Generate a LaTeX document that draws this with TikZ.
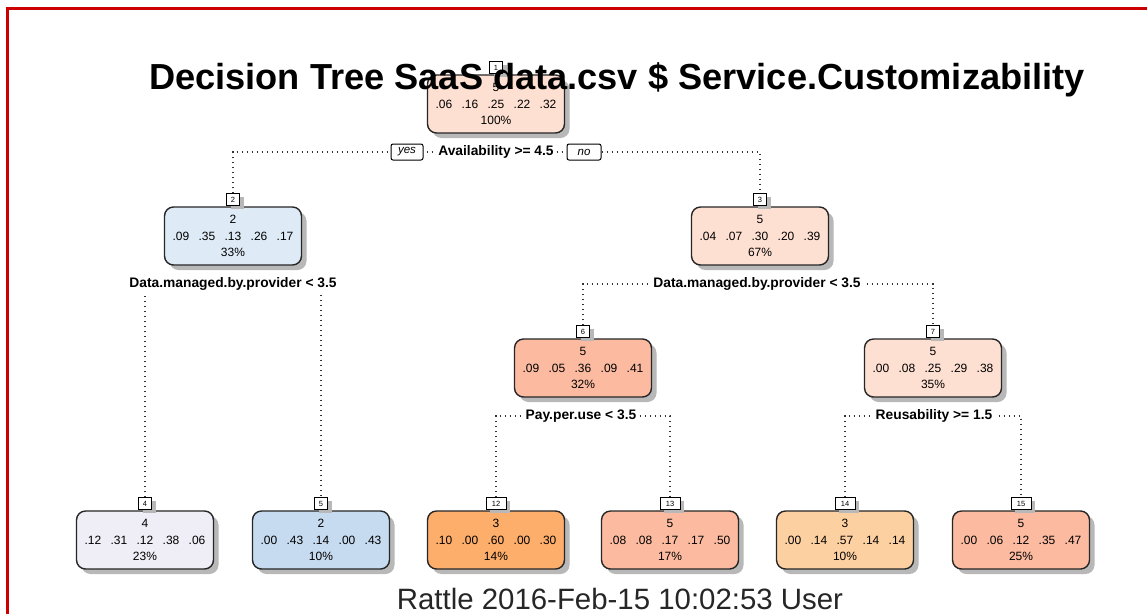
\documentclass[tikz,border=0pt]{standalone}
\usepackage{fontspec}
\setmainfont{Liberation Sans}
\usetikzlibrary{shadows}
\definecolor{borderred}{HTML}{CC0000}
\definecolor{cA}{HTML}{FEE0D2}
\definecolor{cB}{HTML}{DEEBF7}
\definecolor{cC}{HTML}{FCBBA1}
\definecolor{cD}{HTML}{EFEDF5}
\definecolor{cE}{HTML}{C6DBEF}
\definecolor{cF}{HTML}{FDAE6B}
\definecolor{cG}{HTML}{FDD0A2}
\newcommand\vgap{\hspace{6pt}}
\tikzset{
  treenode/.style={draw=black!85, line width=1.4pt, rounded corners=9pt, minimum width=137pt, minimum height=58pt, inner sep=0pt, align=center, font=\fontsize{12}{16.5}\selectfont, drop shadow={shadow xshift=5pt, shadow yshift=-5pt, fill=black!28, opacity=1}},
  numbox/.style={draw=black, fill=white, line width=1pt, minimum height=12pt, minimum width=13pt, inner sep=0.5pt, font=\fontsize{7.5}{7.5}\selectfont, anchor=south, drop shadow={shadow xshift=4pt, shadow yshift=-3pt, fill=black!28, opacity=1}},
  numboxw/.style={numbox, minimum width=20pt},
  splitlabel/.style={fill=white, inner sep=2.5pt, font=\bfseries\fontsize{13.8}{14}\selectfont},
  yesno/.style={draw=black, fill=white, line width=1pt, rounded corners=2pt, font=\itshape\fontsize{11.5}{11.5}\selectfont, minimum height=16pt, inner sep=1pt},
  dots/.style={dash pattern=on 1.4pt off 3.6pt, line width=1.4pt, black!80},
}
\begin{document}
\begin{tikzpicture}[x=1pt,y=-1pt]
\useasboundingbox (0,0) rectangle (1147,614);
\fill[white] (0,0) rectangle (1147,614);
\draw[borderred, line width=3pt] (7.5,614) -- (7.5,8.7) -- (1147,8.7);

% nodes
\node[treenode, fill=cA] (n1) at (496,104) {5\\.06 \vgap.16 \vgap.25 \vgap.22 \vgap.32\\100\%};
\node[treenode, fill=cB] (n2) at (233,236) {2\\.09 \vgap.35 \vgap.13 \vgap.26 \vgap.17\\33\%};
\node[treenode, fill=cA] (n3) at (760,236) {5\\.04 \vgap.07 \vgap.30 \vgap.20 \vgap.39\\67\%};
\node[treenode, fill=cC] (n6) at (583,368) {5\\.09 \vgap.05 \vgap.36 \vgap.09 \vgap.41\\32\%};
\node[treenode, fill=cA] (n7) at (933,368) {5\\.00 \vgap.08 \vgap.25 \vgap.29 \vgap.38\\35\%};
\node[treenode, fill=cD] (n4) at (145,540) {4\\.12 \vgap.31 \vgap.12 \vgap.38 \vgap.06\\23\%};
\node[treenode, fill=cE] (n5) at (321,540) {2\\.00 \vgap.43 \vgap.14 \vgap.00 \vgap.43\\10\%};
\node[treenode, fill=cF] (n12) at (496,540) {3\\.10 \vgap.00 \vgap.60 \vgap.00 \vgap.30\\14\%};
\node[treenode, fill=cC] (n13) at (670,540) {5\\.08 \vgap.08 \vgap.17 \vgap.17 \vgap.50\\17\%};
\node[treenode, fill=cG] (n14) at (845,540) {3\\.00 \vgap.14 \vgap.57 \vgap.14 \vgap.14\\10\%};
\node[treenode, fill=cC] (n15) at (1021,540) {5\\.00 \vgap.06 \vgap.12 \vgap.35 \vgap.47\\25\%};

% number boxes
\node[numbox] (b1) at (n1.north) {1};
\node[numbox] (b2) at (n2.north) {2};
\node[numbox] (b3) at (n3.north) {3};
\node[numbox] (b6) at (n6.north) {6};
\node[numbox] (b7) at (n7.north) {7};
\node[numbox] (b4) at (n4.north) {4};
\node[numbox] (b5) at (n5.north) {5};
\node[numboxw] (b12) at (n12.north) {12};
\node[numboxw] (b13) at (n13.north) {13};
\node[numboxw] (b14) at (n14.north) {14};
\node[numboxw] (b15) at (n15.north) {15};

% split coordinates
\coordinate (s1) at (496,152);
\coordinate (s2) at (233,284);
\coordinate (s3) at (757,284);
\coordinate (s6) at (581,416);
\coordinate (s7) at (934,416);

% connectors
\draw[dots] (b2.north) -- (b2.north |- s1) -- (b3.north |- s1) -- (b3.north);
\draw[dots] (b4.north) -- (b4.north |- s2) -- (b5.north |- s2) -- (b5.north);
\draw[dots] (b6.north) -- (b6.north |- s3) -- (b7.north |- s3) -- (b7.north);
\draw[dots] (b12.north) -- (b12.north |- s6) -- (b13.north |- s6) -- (b13.north);
\draw[dots] (b14.north) -- (b14.north |- s7) -- (b15.north |- s7) -- (b15.north);

% split labels
\node[splitlabel] (l1) at (s1) {Availability >= 4.5};
\node[yesno, minimum width=32pt] (yes) at (407,152) {yes};
\node[yesno, minimum width=34pt] (no) at (584,152) {no};
\node[splitlabel] (l2) at (s2) {Data.managed.by.provider < 3.5};
\node[splitlabel] (l3) at (s3) {Data.managed.by.provider < 3.5};
\node[splitlabel] (l6) at (s6) {Pay.per.use < 3.5};
\node[splitlabel] (l7) at (s7) {Reusability >= 1.5};

% title and footer
\node[anchor=base, font=\bfseries\fontsize{36.2}{37}\selectfont, inner sep=0pt] (title) at (617,89) {Decision Tree SaaS data.csv \$ Service.Customizability};
\node[anchor=base, font=\fontsize{29.4}{30}\selectfont, inner sep=0pt, text=black!85] (footer) at (620,609) {Rattle 2016-Feb-15 10:02:53 User};
\end{tikzpicture}
\end{document}
